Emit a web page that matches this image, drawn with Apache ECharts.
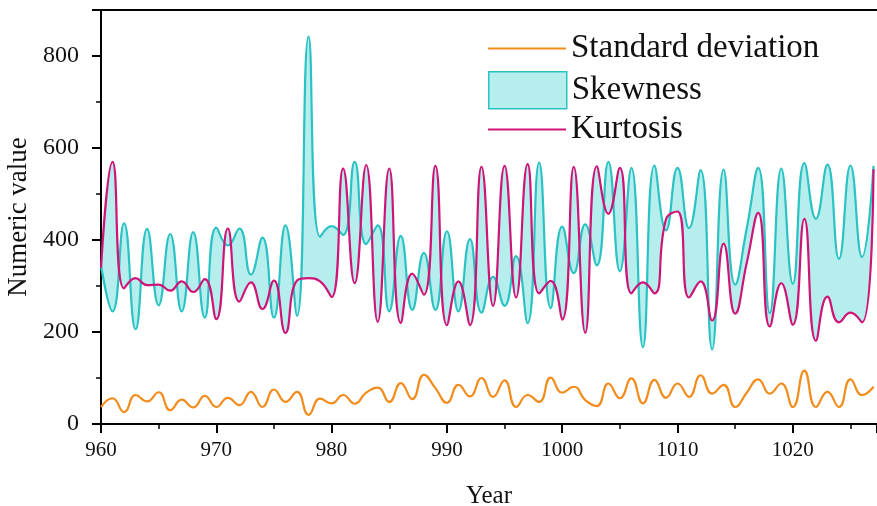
<!DOCTYPE html>
<html>
<head>
<meta charset="utf-8">
<script src="https://cdn.jsdelivr.net/npm/echarts@6/dist/echarts.min.js"></script>
<style>
  html, body { margin: 0; padding: 0; background: #fff; }
  #chart { width: 877px; height: 506px; }
</style>
</head>
<body>
<div id="chart"></div>
<script>
// years 960..1027
var years = [];
for (var y = 960; y <= 1027; y++) years.push(y);

var stdDev = [37, 56, 26, 63, 49, 69, 30, 53, 36, 61,
              37, 57, 41, 70, 37, 75, 48, 70, 20, 55,
              45, 63, 44, 68, 79, 48, 89, 54, 107, 78,
              46, 85, 60, 100, 59, 95, 37, 63, 48, 101,
              68, 81, 52, 39, 88, 56, 99, 45, 96, 57,
              88, 59, 106, 66, 85, 37, 68, 97, 66, 88,
              37, 116, 37, 70, 37, 97, 63, 81];

var skewness = [345, 245, 436, 206, 424, 258, 413, 245, 417, 231,
                427, 388, 425, 325, 405, 231, 432, 235, 842, 407,
                430, 411, 570, 391, 432, 245, 409, 248, 372, 248,
                419, 245, 402, 242, 320, 257, 365, 219, 568, 252,
                429, 328, 434, 345, 570, 332, 557, 167, 562, 421,
                557, 426, 552, 162, 553, 303, 425, 557, 241, 555,
                305, 567, 446, 564, 359, 562, 363, 561];

var kurtosis = [340, 570, 295, 317, 302, 303, 290, 310, 287, 315,
                228, 425, 266, 308, 250, 312, 198, 312, 317, 310,
                276, 555, 306, 563, 222, 555, 220, 327, 281, 561,
                215, 310, 215, 559, 257, 561, 275, 565, 284, 311,
                227, 559, 198, 560, 457, 557, 284, 308, 284, 445,
                462, 275, 310, 225, 392, 240, 350, 459, 212, 306,
                216, 446, 181, 277, 221, 242, 221, 554];

var orange = '#f28c1c', cyan = '#2cc2c3', magenta = '#cf1478', fill = '#b6eeee';
var serif = 'Liberation Serif';
var SMOOTH = 0.5;

function pairs(vals) {
    return vals.map(function (v, i) { return [years[i], v]; });
}

// same bezier construction as the line series uses for smooth lines,
// so the filled band lines up with the drawn curves
function smoothSegs(pts, smooth) {
    var segs = [];
    var n = pts.length;
    var cpx0 = pts[0][0], cpy0 = pts[0][1];
    var min = Math.min, max = Math.max;
    for (var i = 1; i < n; i++) {
        var prevX = pts[i - 1][0], prevY = pts[i - 1][1];
        var x = pts[i][0], y = pts[i][1];
        var cpx1, cpy1, nextCpx0, nextCpy0;
        if (i === n - 1) {
            cpx1 = x; cpy1 = y;
        } else {
            var nextX = pts[i + 1][0], nextY = pts[i + 1][1];
            var vx = nextX - prevX, vy = nextY - prevY;
            var dx0 = x - prevX, dx1 = nextX - x, dy0 = y - prevY, dy1 = nextY - y;
            var lenPrev = Math.sqrt(dx0 * dx0 + dy0 * dy0);
            var lenNext = Math.sqrt(dx1 * dx1 + dy1 * dy1);
            var ratio = lenNext / (lenNext + lenPrev);
            nextCpx0 = x + vx * smooth * ratio;
            nextCpy0 = y + vy * smooth * ratio;
            nextCpx0 = min(nextCpx0, max(nextX, x));
            nextCpy0 = min(nextCpy0, max(nextY, y));
            nextCpx0 = max(nextCpx0, min(nextX, x));
            nextCpy0 = max(nextCpy0, min(nextY, y));
            vx = nextCpx0 - x; vy = nextCpy0 - y;
            cpx1 = x - vx * lenPrev / lenNext;
            cpy1 = y - vy * lenPrev / lenNext;
            cpx1 = min(cpx1, max(prevX, x));
            cpy1 = min(cpy1, max(prevY, y));
            cpx1 = max(cpx1, min(prevX, x));
            cpy1 = max(cpy1, min(prevY, y));
            vx = x - cpx1; vy = y - cpy1;
            nextCpx0 = x + vx * lenNext / lenPrev;
            nextCpy0 = y + vy * lenNext / lenPrev;
        }
        segs.push([cpx0, cpy0, cpx1, cpy1, x, y]);
        cpx0 = nextCpx0; cpy0 = nextCpy0;
    }
    return segs;
}

function renderBand(params, api) {
    if (params.dataIndex !== 0) return null;
    var top = skewness.map(function (v, i) { return api.coord([years[i], v]); });
    var bot = kurtosis.map(function (v, i) { return api.coord([years[i], v]); });
    var a = smoothSegs(top, SMOOTH);
    var b = smoothSegs(bot, SMOOTH);
    var d = 'M' + top[0][0] + ' ' + top[0][1];
    a.forEach(function (s) { d += ' C' + s.join(' '); });
    var last = bot[bot.length - 1];
    d += ' L' + last[0] + ' ' + last[1];
    for (var k = b.length - 1; k >= 0; k--) {
        var s = b[k];
        var start = k === 0 ? bot[0] : [b[k - 1][4], b[k - 1][5]];
        d += ' C' + s[2] + ' ' + s[3] + ' ' + s[0] + ' ' + s[1] + ' ' + start[0] + ' ' + start[1];
    }
    d += ' Z';
    return { type: 'path', shape: { pathData: d }, style: { fill: fill, stroke: null }, silent: true };
}

var chart = echarts.init(document.getElementById('chart'));
var legendText = { fontFamily: serif, fontSize: 33, color: '#111' };
chart.setOption({
    animation: false,
    backgroundColor: '#fff',
    grid: { left: 101, right: 0, top: 10, bottom: 82, outerBoundsMode: 'none', containLabel: false },
    legend: [
        {
            data: [{ name: 'Standard deviation', icon: 'rect' }],
            left: 488, top: 32, padding: 0,
            itemWidth: 78, itemHeight: 2, textStyle: legendText
        },
        {
            data: [{ name: 'Skewness', icon: 'rect',
                     itemStyle: { color: fill, borderColor: cyan, borderWidth: 1.5 } }],
            left: 488, top: 71, padding: 0,
            itemWidth: 78, itemHeight: 37, textStyle: legendText
        },
        {
            data: [{ name: 'Kurtosis', icon: 'rect' }],
            left: 488, top: 113, padding: 0,
            itemWidth: 78, itemHeight: 2, textStyle: legendText
        }
    ],
    xAxis: [
        {
            type: 'value', min: 960, max: 1027.3, interval: 10,
            name: 'Year', nameLocation: 'middle', nameGap: 60,
            nameTextStyle: { fontFamily: serif, fontSize: 25, color: '#111' },
            axisLine: { lineStyle: { color: '#000', width: 2 } },
            axisTick: { inside: false, length: 9, lineStyle: { color: '#000', width: 2 } },
            minorTick: { show: true, splitNumber: 2, length: 5, lineStyle: { color: '#000', width: 1.5 } },
            axisLabel: {
                fontFamily: serif, fontSize: 21, color: '#111', margin: 16, showMaxLabel: false,
                formatter: function (v) { return String(v); }
            },
            splitLine: { show: false }
        },
        {
            type: 'value', position: 'top', min: 960, max: 1027.3,
            axisLine: { show: true, onZero: false, lineStyle: { color: '#000', width: 2 } },
            axisTick: { show: false }, axisLabel: { show: false }, splitLine: { show: false }
        }
    ],
    yAxis: {
        type: 'value', min: 0, max: 900, interval: 200,
        name: 'Numeric value', nameLocation: 'middle', nameGap: 58,
        nameTextStyle: { fontFamily: serif, fontSize: 27, color: '#111' },
        axisLine: { show: true, lineStyle: { color: '#000', width: 2 } },
        axisTick: { show: true, length: 9, lineStyle: { color: '#000', width: 2 } },
        minorTick: { show: true, splitNumber: 2, length: 5, lineStyle: { color: '#000', width: 1.5 } },
        axisLabel: { fontFamily: serif, fontSize: 24, color: '#111', margin: 22, showMaxLabel: false },
        splitLine: { show: false }
    },
    series: [
        {
            name: 'band', type: 'custom', renderItem: renderBand,
            data: pairs(skewness), z: 1, silent: true
        },
        {
            name: 'Standard deviation', type: 'line', data: pairs(stdDev),
            smooth: SMOOTH, symbol: 'none', itemStyle: { color: orange },
            lineStyle: { color: orange, width: 2.2 }, z: 3
        },
        {
            name: 'Skewness', type: 'line', data: pairs(skewness),
            smooth: SMOOTH, symbol: 'none', itemStyle: { color: cyan },
            lineStyle: { color: cyan, width: 2.2 }, z: 3
        },
        {
            name: 'Kurtosis', type: 'line', data: pairs(kurtosis),
            smooth: SMOOTH, symbol: 'none', itemStyle: { color: magenta },
            lineStyle: { color: magenta, width: 2.2 }, z: 4
        }
    ]
});
</script>
</body>
</html>
